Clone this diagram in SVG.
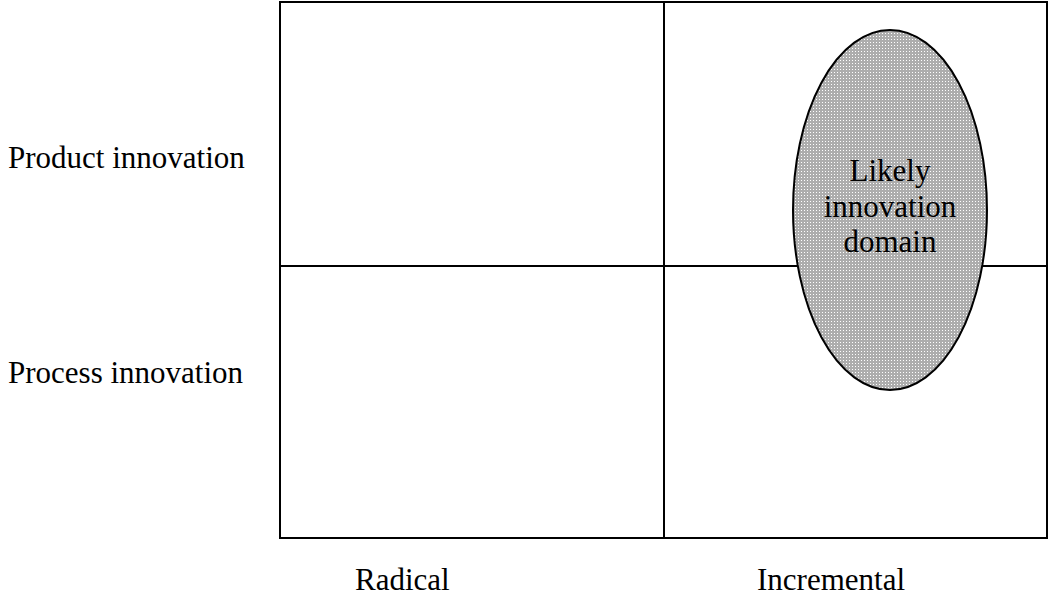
<svg xmlns="http://www.w3.org/2000/svg" width="1049" height="609" viewBox="0 0 1049 609">
  <style>
    .lbl { font-family: "Liberation Serif", "Times New Roman", serif; font-size: 31px; fill: #000; }
    .grid { fill: none; stroke: #000; stroke-width: 2; }
  </style>
  <defs>
    <!-- fine screen tone: gray pixels with a transparent hole in each 3x3 cell -->
    <pattern id="tone" width="3" height="3" patternUnits="userSpaceOnUse">
      <rect x="1" y="0" width="2" height="1" fill="#adadad"/>
      <rect x="0" y="1" width="3" height="2" fill="#adadad"/>
    </pattern>
  </defs>
  <rect width="1049" height="609" fill="#fff"/>

  <g id="matrix">
    <rect class="grid" x="280" y="2" width="767" height="536" fill="#fff"/>
    <line class="grid" x1="664" y1="2" x2="664" y2="538"/>
    <line class="grid" x1="280" y1="266" x2="1047" y2="266"/>
  </g>

  <g id="row-labels">
    <text class="lbl" x="8" y="168">Product innovation</text>
    <text class="lbl" x="8" y="383">Process innovation</text>
  </g>

  <g id="column-labels">
    <text class="lbl" x="355" y="590">Radical</text>
    <text class="lbl" x="757" y="590">Incremental</text>
  </g>

  <g id="likely-domain">
    <ellipse cx="890" cy="210" rx="97" ry="180" fill="url(#tone)" stroke="#000" stroke-width="2"/>
    <text class="lbl" x="890" y="181" text-anchor="middle">Likely</text>
    <text class="lbl" x="890" y="217" text-anchor="middle">innovation</text>
    <text class="lbl" x="890" y="252" text-anchor="middle">domain</text>
  </g>
</svg>
